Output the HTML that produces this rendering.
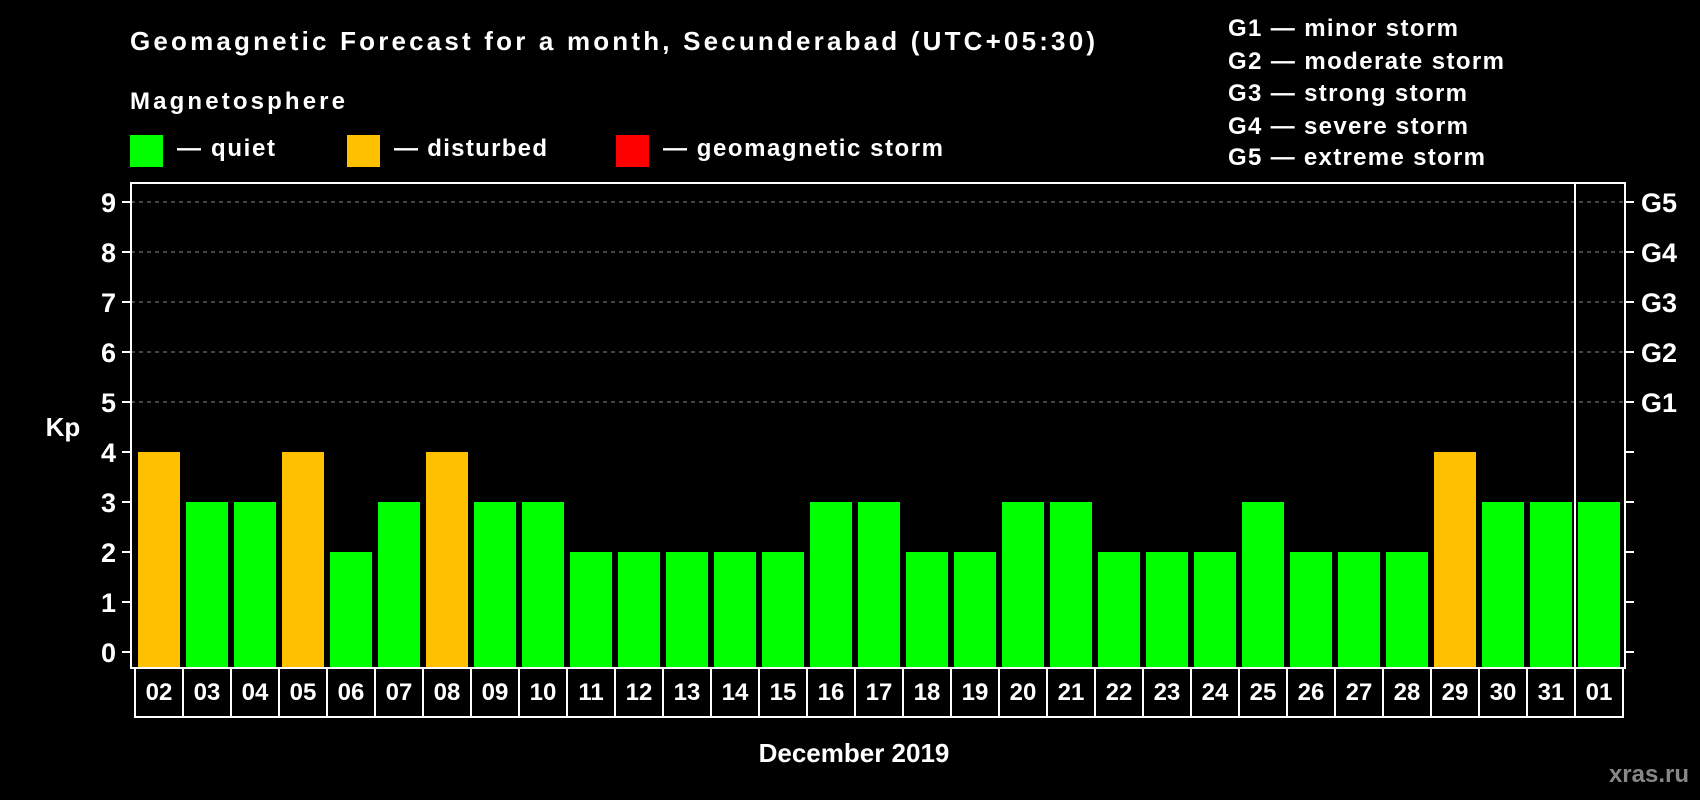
<!DOCTYPE html>
<html><head><meta charset="utf-8"><style>
html,body{margin:0;padding:0;background:#000;}
svg{display:block;font-family:"Liberation Sans",sans-serif;font-weight:bold;}
</style></head><body>
<svg id="chart" width="1700" height="800" viewBox="0 0 1700 800">
<text x="130" y="50" font-size="26" fill="#fff" textLength="965">Geomagnetic Forecast for a month, Secunderabad (UTC+05:30)</text>
<text x="130" y="109" font-size="24" fill="#fff" textLength="215">Magnetosphere</text>
<g>
<rect x="130" y="135" width="33" height="32" fill="#00ff00"/>
<text x="177" y="156" font-size="24" fill="#fff" textLength="98">— quiet</text></g>
<g>
<rect x="347" y="135" width="33" height="32" fill="#ffc000"/>
<text x="394" y="156" font-size="24" fill="#fff" textLength="153">— disturbed</text></g>
<g>
<rect x="616" y="135" width="33" height="32" fill="#ff0000"/>
<text x="663" y="156" font-size="24" fill="#fff" textLength="280">— geomagnetic storm</text></g>
<g font-size="24" fill="#fff">
<text x="1228" y="36" textLength="230">G1 — minor storm</text>
<text x="1228" y="69" textLength="276">G2 — moderate storm</text>
<text x="1228" y="101" textLength="239">G3 — strong storm</text>
<text x="1228" y="134" textLength="240">G4 — severe storm</text>
<text x="1228" y="165" textLength="257">G5 — extreme storm</text>
</g>
<g id="grid"></g><g id="bars"></g><g id="axes"></g>
<text x="63" y="436" font-size="26" fill="#fff" text-anchor="middle">Kp</text>
<text x="854" y="762" font-size="26" fill="#fff" text-anchor="middle">December 2019</text>
<text x="1689" y="782" font-size="24" fill="#888" text-anchor="end">xras.ru</text>
</svg>
<script>
const days = ["02","03","04","05","06","07","08","09","10","11","12","13","14","15","16","17","18","19","20","21","22","23","24","25","26","27","28","29","30","31","01"];
const kpValues = [4,3,3,4,2,3,4,3,3,2,2,2,2,2,3,3,2,2,3,3,2,2,2,3,2,2,2,4,3,3,3];
const yTicks = [0,1,2,3,4,5,6,7,8,9];
const gLabels = ["G1","G2","G3","G4","G5"];
const gLevels = [5,6,7,8,9];
const NS="http://www.w3.org/2000/svg";
const L=131,R=1625,T=183,B=668;
const y=v=>652-v*50;
const x=i=>138+i*48;
function mk(tag,attrs,parent){const e=document.createElementNS(NS,tag);for(const k in attrs)e.setAttribute(k,attrs[k]);parent.appendChild(e);return e;}
const grid=document.getElementById('grid'),bars=document.getElementById('bars'),axes=document.getElementById('axes');
gLevels.forEach(v=>{const l=mk('line',{x1:L,x2:R,y1:y(v),y2:y(v),stroke:'#888','stroke-dasharray':'4,4','stroke-width':1},grid);

});
kpValues.forEach((v,i)=>{const c=v>=5?'#ff0000':(v>=4?'#ffc000':'#00ff00');
const r=mk('rect',{x:x(i),y:y(v),width:42,height:B-y(v),fill:c},bars);


const b=mk('rect',{x:135+i*48,y:B,width:48,height:49,fill:'none',stroke:'#fff','stroke-width':2},axes);


const t=mk('text',{x:159+i*48,y:700,'font-size':24,fill:'#fff','text-anchor':'middle'},axes);t.textContent=days[i];

});
const f=mk('rect',{x:L,y:T,width:R-L,height:B-T,fill:'none',stroke:'#fff','stroke-width':2},axes);


const sep=mk('line',{x1:1575,x2:1575,y1:T,y2:B,stroke:'#fff','stroke-width':2},axes);


yTicks.forEach(v=>{mk('line',{x1:122,x2:L,y1:y(v),y2:y(v),stroke:'#fff','stroke-width':2},axes);
mk('line',{x1:R,x2:1634,y1:y(v),y2:y(v),stroke:'#fff','stroke-width':2},axes);
const t=mk('text',{x:116,y:y(v)+10,'font-size':27,fill:'#fff','text-anchor':'end'},axes);t.textContent=v;

});
gLabels.forEach((g,i)=>{const t=mk('text',{x:1641,y:y(gLevels[i])+10,'font-size':27,fill:'#fff'},axes);t.textContent=g;

});
</script>
</body></html>
